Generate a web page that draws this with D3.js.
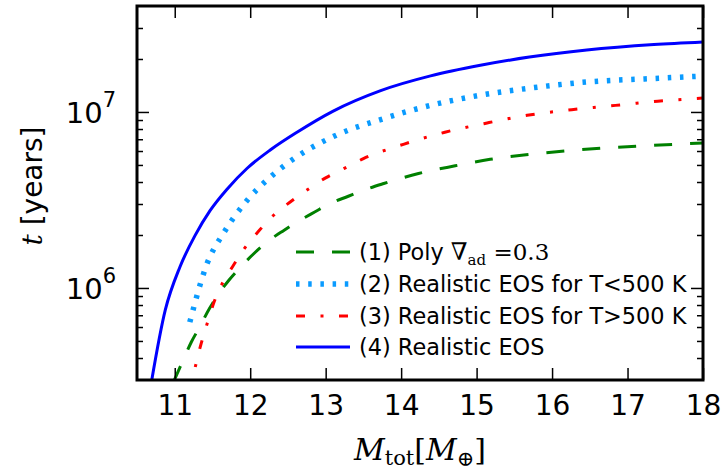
<!DOCTYPE html>
<html>
<head>
<meta charset="utf-8">
<script src="https://cdn.jsdelivr.net/npm/d3@7"></script>
<style>
  html, body { margin: 0; padding: 0; background: #fff; }
  svg { display: block; }
</style>
</head>
<body>
<svg id="chart" width="727" height="475"></svg>
<script>
// ---- data ----
const xTicks = [11, 12, 13, 14, 15, 16, 17, 18];
const yMajorTicks = [1e6, 1e7];
const yMajorLabels = ["6", "7"];
const yMinorTicks = [4e5, 5e5, 6e5, 7e5, 8e5, 9e5, 2e6, 3e6, 4e6, 5e6, 6e6, 7e6, 8e6, 9e6, 2e7, 3e7];

const mass1 = [10.98, 11.11, 11.22, 11.33, 11.46, 11.57, 11.72, 11.87, 12.05, 12.22, 12.45, 12.62, 12.86, 13.06, 13.3, 13.5, 13.77, 14.23, 14.7, 15.18, 15.69, 16.38, 16.86, 17.35, 17.83, 18.0];
const time1 = [2.9e5, 3.88e5, 4.93e5, 6.0e5, 7.64e5, 9.1e5, 1.11e6, 1.31e6, 1.57e6, 1.82e6, 2.13e6, 2.37e6, 2.71e6, 3.02e6, 3.32e6, 3.59e6, 3.92e6, 4.47e6, 4.93e6, 5.38e6, 5.73e6, 6.11e6, 6.3e6, 6.47e6, 6.61e6, 6.66e6];

const mass2 = [11.2, 11.43, 11.65, 11.96, 12.27, 12.58, 13.15, 13.77, 14.39, 15.05, 15.67, 16.46, 17.35, 18.0];
const time2 = [6.4e5, 1.38e6, 2.06e6, 3.15e6, 4.28e6, 5.43e6, 7.41e6, 9.17e6, 1.09e7, 1.245e7, 1.36e7, 1.48e7, 1.55e7, 1.6e7];

const mass3 = [11.2, 11.35, 11.43, 11.52, 11.63, 11.78, 11.92, 12.11, 12.31, 12.53, 12.78, 13.0, 13.24, 13.5, 14.03, 14.58, 15.14, 15.67, 16.26, 16.84, 17.4, 18.0];
const time3 = [2.6e5, 4.83e5, 6.28e5, 8.3e5, 1.06e6, 1.35e6, 1.67e6, 2.1e6, 2.59e6, 3.08e6, 3.67e6, 4.22e6, 4.76e6, 5.43e6, 6.55e6, 7.67e6, 8.66e6, 9.57e6, 1.03e7, 1.09e7, 1.15e7, 1.2e7];

const mass4 = [10.65, 10.875, 11.07, 11.27, 11.47, 11.69, 11.96, 12.27, 12.62, 13.1, 13.72, 14.39, 15.05, 15.7, 16.46, 17.35, 18.0];
const time4 = [2.3e5, 7.5e5, 1.32e6, 1.99e6, 2.76e6, 3.63e6, 4.79e6, 6.1e6, 7.67e6, 1.012e7, 1.318e7, 1.603e7, 1.841e7, 2.051e7, 2.249e7, 2.415e7, 2.5e7];

// ---- layout ----
const L = 137, R = 703, T = 6, B = 380;
const svg = d3.select("#chart");
const x = d3.scaleLinear().domain([10.5, 18]).range([L, R]);
const y = d3.scaleLog().domain([3e5, 4e7]).range([B, T]);

const sans = "'DejaVu Sans', sans-serif";
const serif = "'DejaVu Serif', 'Liberation Serif', serif";

svg.append("clipPath").attr("id", "clip")
  .append("rect").attr("x", L).attr("y", T).attr("width", R - L).attr("height", B - T);

const series = [
  { m: mass1, t: time1, color: "#008000", width: 3, dash: "18,18" },
  { m: mass2, t: time2, color: "#0a9bff", width: 5.5, dash: "3.5,8.7" },
  { m: mass3, t: time3, color: "#ff0000", width: 3, dash: "9,15.5,3,15.5" },
  { m: mass4, t: time4, color: "#0000ff", width: 3, dash: null }
];

const line = d3.line().x(d => x(d[0])).y(d => y(d[1])).curve(d3.curveMonotoneX);
const plot = svg.append("g").attr("clip-path", "url(#clip)");
series.forEach(s => {
  plot.append("path")
    .attr("d", line(s.m.map((m, i) => [m, s.t[i]])))
    .attr("fill", "none")
    .attr("stroke", s.color)
    .attr("stroke-width", s.width)
    .attr("stroke-dasharray", s.dash)
    .attr("stroke-linecap", "butt")
    .attr("stroke-linejoin", "round");
});

// ---- axes (ticks point inward) ----
function styleAxis(g) {
  g.select(".domain").remove();
  g.selectAll(".tick line").attr("stroke", "#000").attr("stroke-width", 1.5);
}
const xb = svg.append("g").attr("transform", `translate(0,${B})`)
  .call(d3.axisBottom(x).tickValues(xTicks).tickSize(-12).tickPadding(15).tickFormat(d3.format("d")));
styleAxis(xb);
xb.selectAll("text").attr("font-family", sans).attr("font-size", 28).attr("fill", "#000");

const xt = svg.append("g").attr("transform", `translate(0,${T})`)
  .call(d3.axisTop(x).tickValues(xTicks).tickSize(-12).tickFormat(""));
styleAxis(xt);

const yl = svg.append("g").attr("transform", `translate(${L},0)`)
  .call(d3.axisLeft(y).tickValues(yMajorTicks).tickSize(-12).tickFormat(""));
styleAxis(yl);
const ylm = svg.append("g").attr("transform", `translate(${L},0)`)
  .call(d3.axisLeft(y).tickValues(yMinorTicks).tickSize(-6).tickFormat(""));
styleAxis(ylm);
const yr = svg.append("g").attr("transform", `translate(${R},0)`)
  .call(d3.axisRight(y).tickValues(yMajorTicks).tickSize(-12).tickFormat(""));
styleAxis(yr);
const yrm = svg.append("g").attr("transform", `translate(${R},0)`)
  .call(d3.axisRight(y).tickValues(yMinorTicks).tickSize(-6).tickFormat(""));
styleAxis(yrm);

// y tick labels 10^n
yMajorTicks.forEach((v, i) => {
  const t = svg.append("text")
    .attr("x", 116).attr("y", y(v) + 11)
    .attr("text-anchor", "end")
    .attr("font-family", sans).attr("font-size", 29).attr("fill", "#000");
  t.append("tspan").text("10");
  t.append("tspan").attr("dy", -16).attr("font-size", 21).text(yMajorLabels[i]);
});

// spines
svg.append("rect").attr("x", L).attr("y", T).attr("width", R - L).attr("height", B - T)
  .attr("fill", "none").attr("stroke", "#000").attr("stroke-width", 3);

// x label: M_tot[M_⊕]
const xl = svg.append("text").attr("x", (L + R) / 2).attr("y", 460)
  .attr("text-anchor", "middle").attr("font-family", serif).attr("font-size", 30).attr("fill", "#000");
xl.append("tspan").attr("font-style", "italic").text("M");
xl.append("tspan").attr("font-size", 21).attr("dy", 5).text("tot");
xl.append("tspan").attr("dy", -5).text("[");
xl.append("tspan").attr("font-style", "italic").text("M");
xl.append("tspan").attr("font-size", 21).attr("dy", 6).text("⊕");
xl.append("tspan").attr("dy", -6).text("]");

// y label: t [years]
const ylab = svg.append("text")
  .attr("transform", "translate(42,186) rotate(-90)")
  .attr("text-anchor", "middle").attr("font-size", 28).attr("fill", "#000");
ylab.append("tspan").attr("font-family", serif).attr("font-style", "italic").text("t");
ylab.append("tspan").attr("font-family", sans).text(" [years]");

// legend
const legendLabels = ["(1) Poly ", "(2) Realistic EOS for T<500 K", "(3) Realistic EOS for T>500 K", "(4) Realistic EOS"];
const legY = [252, 284, 316, 347];
series.forEach((s, i) => {
  svg.append("line")
    .attr("x1", 296).attr("x2", 350).attr("y1", legY[i]).attr("y2", legY[i])
    .attr("stroke", s.color).attr("stroke-width", s.width)
    .attr("stroke-dasharray", s.dash);
  const t = svg.append("text").attr("x", 359).attr("y", legY[i] + 8)
    .attr("font-family", sans).attr("font-size", 22.4).attr("fill", "#000");
  t.append("tspan").text(legendLabels[i]);
  if (i === 0) {
    t.append("tspan").attr("font-family", serif).attr("font-size", 24).text("∇");
    t.append("tspan").attr("font-family", serif).attr("font-size", 15).attr("dy", 5).text("ad");
    t.append("tspan").attr("font-family", serif).attr("font-size", 23).attr("dy", -5).text(" =0.3");
  }
});
</script>
</body>
</html>
